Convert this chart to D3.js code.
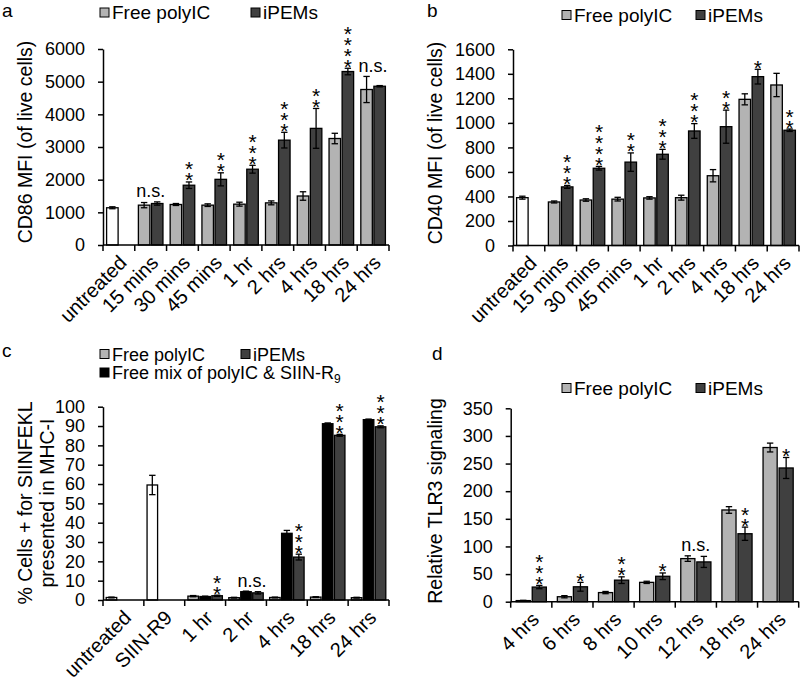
<!DOCTYPE html>
<html><head><meta charset="utf-8">
<script src="https://cdn.jsdelivr.net/npm/d3@7"></script>
<style>
body{margin:0;background:#fff}
svg{display:block}
text{font-family:"Liberation Sans",Arial,Helvetica,sans-serif;fill:#000}
.stars{writing-mode:vertical-rl;text-orientation:upright}
</style>
</head><body>
<svg id="chart" width="800" height="682"></svg>
<script>
// ---------- Panel a : CD86 MFI ----------
const catsA = ["untreated","15 mins","30 mins","45 mins","1 hr","2 hrs","4 hrs","18 hrs","24 hrs"];
const polyA = [1140,1220,1240,1220,1250,1290,1500,3260,4760];
const polyErrA = [30,80,30,40,60,60,130,160,400];
const ipemA = [null,1270,1830,2010,2320,3210,3570,5310,4860];
const ipemErrA = [null,50,100,200,120,240,610,100,20];
const sigA = ["","n.s.","**","**","***","***","**","****","n.s."];
const ticksA = [0,1000,2000,3000,4000,5000,6000];

// ---------- Panel b : CD40 MFI ----------
const catsB = ["untreated","15 mins","30 mins","45 mins","1 hr","2 hrs","4 hrs","18 hrs","24 hrs"];
const polyB = [390,355,371,378,388,390,569,1192,1309];
const polyErrB = [12,8,10,15,10,20,50,45,95];
const ipemB = [null,478,630,680,744,934,969,1377,940];
const ipemErrB = [null,12,15,75,40,60,135,60,10];
const sigB = ["","***","****","**","***","***","**","*","**"];
const ticksB = [0,200,400,600,800,1000,1200,1400,1600];

// ---------- Panel c : SIINFEKL presentation ----------
const catsC = ["untreated","SIIN-R9","1 hr","2 hr","4 hrs","18 hrs","24 hrs"];
const polyC = [1.3,59.5,2.0,1.2,1.3,1.5,1.2];
const polyErrC = [0.2,5,0.3,0.2,0.2,0.2,0.2];
const mixC = [null,null,1.8,4.3,34.5,91.2,93.3];
const mixErrC = [null,null,0.2,0.3,1.5,0.4,0.3];
const ipemC = [null,null,2.2,3.7,22.2,85.2,89.6];
const ipemErrC = [null,null,0.3,0.6,1.5,0.5,0.5];
const sigC = ["","","**","n.s.","***","***","***"];
const ticksC = [0,10,20,30,40,50,60,70,80,90,100];

// ---------- Panel d : TLR3 signaling ----------
const catsD = ["4 hrs","6 hrs","8 hrs","10 hrs","12 hrs","18 hrs","24 hrs"];
const polyD = [2,9,16.5,35,78,166,279];
const polyErrD = [0.5,2,2,2,5,6,8];
const ipemD = [26.5,27,39,46,72,123,242];
const ipemErrD = [3,8,6,6,10,12,19];
const sigD = ["***","*","**","*","n.s.","**","*"];
const ticksD = [0,50,100,150,200,250,300,350];

const C_LIGHT = "#b3b3b3", C_DARK = "#404040", C_BLACK = "#000000", C_WHITE = "#ffffff";
const whiteCats = ["untreated","SIIN-R9"];

const svg = d3.select("#chart");

function panel(cfg){
  const g = svg.append("g");
  const y = d3.scaleLinear().domain([0, cfg.yMax]).range([cfg.y0, cfg.yTop]);
  const x = d3.scaleBand().domain(cfg.cats).range([cfg.x0, cfg.x1]).paddingInner(0).paddingOuter(0);
  const W = x.bandwidth();
  const inner = d3.scaleBand().domain(d3.range(cfg.series.length))
      .range([cfg.pad, W - cfg.pad]).paddingInner(cfg.innerPad);
  const bw = inner.bandwidth();

  // bars
  cfg.series.forEach((s, si) => {
    cfg.cats.forEach((c, ci) => {
      const v = s.values[ci];
      if (v == null) return;
      const bx = x(c) + inner(si);
      const fill = (si === 0 && whiteCats.includes(c)) ? C_WHITE : s.color;
      g.append("rect").attr("x", bx).attr("y", y(v)).attr("width", bw)
        .attr("height", y(0) - y(v)).attr("fill", fill)
        .attr("stroke", "#000").attr("stroke-width", 1.3);
    });
  });
  // error bars
  cfg.series.forEach((s, si) => {
    cfg.cats.forEach((c, ci) => {
      const v = s.values[ci], e = s.errs[ci];
      if (v == null || !e) return;
      const cx = x(c) + inner(si) + bw / 2;
      const hi = y(v + e), lo = y(Math.max(0, v - e));
      const eg = g.append("g").attr("stroke", "#000").attr("stroke-width", 1.3);
      eg.append("line").attr("x1", cx).attr("x2", cx).attr("y1", hi).attr("y2", lo);
      eg.append("line").attr("x1", cx - 3.2).attr("x2", cx + 3.2).attr("y1", hi).attr("y2", hi);
      eg.append("line").attr("x1", cx - 3.2).attr("x2", cx + 3.2).attr("y1", lo).attr("y2", lo);
    });
  });
  // significance labels
  cfg.cats.forEach((c, ci) => {
    const sig = cfg.sig[ci];
    if (!sig) return;
    const n = cfg.series.length;
    let top = Infinity;
    cfg.series.forEach(s => { const v = s.values[ci]; if (v != null) top = Math.min(top, y(v + (s.errs[ci] || 0))); });
    if (sig === "n.s.") {
      const cx = x(c) + (inner(n - 2) + inner(n - 1) + bw) / 2;
      g.append("text").attr("x", cx).attr("y", top - 4.5).attr("text-anchor", "middle")
        .attr("font-size", 18).text(sig);
    } else {
      // asterisks stacked vertically (upright) above the iPEMs bar
      const last = cfg.series[n - 1];
      const cx = x(c) + inner(n - 1) + bw / 2;
      const t = y(last.values[ci] + (last.errs[ci] || 0));
      g.append("text").attr("class", "stars").attr("x", cx).attr("y", t - 2.5)
        .attr("text-anchor", "end").attr("font-size", 21).attr("letter-spacing", -12)
        .text(sig);
    }
  });
  // y axis
  const ya = d3.axisLeft(y).tickValues(cfg.ticks).tickFormat(d3.format("d"))
      .tickSize(5).tickPadding(13).tickSizeOuter(0);
  const yg = g.append("g").attr("transform", `translate(${cfg.x0},0)`).call(ya);
  yg.select(".domain").attr("stroke-width", 1.5);
  yg.selectAll(".tick line").attr("stroke-width", 1.5);
  yg.selectAll(".tick text").attr("font-size", 18).attr("font-family", "Liberation Sans, Arial, sans-serif");
  // x axis line and ticks at category boundaries
  const xg = g.append("g").attr("stroke", "#000").attr("stroke-width", 1.5);
  xg.append("line").attr("x1", cfg.x0).attr("x2", cfg.x1).attr("y1", cfg.y0).attr("y2", cfg.y0);
  const bounds = cfg.cats.map(c => x(c)).concat([cfg.x1]);
  bounds.forEach(bx => xg.append("line").attr("x1", bx).attr("x2", bx).attr("y1", cfg.y0).attr("y2", cfg.y0 + 6));
  // x labels
  cfg.cats.forEach(c => {
    const cx = x(c) + W / 2;
    g.append("text").attr("text-anchor", "end").attr("font-size", 20)
      .attr("transform", `translate(${cx + 9},${cfg.y0 + 19}) rotate(-45)`).text(c);
  });
  // y title
  cfg.title.forEach((t, i) => {
    g.append("text").attr("text-anchor", "middle").attr("font-size", 19.5)
      .attr("transform", `translate(${cfg.titleX[i]},${cfg.titleY}) rotate(-90)`).text(t);
  });
  // panel letter
  g.append("text").attr("x", cfg.letterX).attr("y", cfg.letterY).attr("font-size", 19).text(cfg.letter);
  // legend
  cfg.legend.forEach(it => {
    g.append("rect").attr("x", it.x).attr("y", it.y - 4.5).attr("width", 9).attr("height", 9)
      .attr("fill", it.color).attr("stroke", "#000").attr("stroke-width", 1);
    const tx = g.append("text").attr("x", it.x + 12).attr("y", it.y + 6.5).attr("font-size", cfg.legendSize || 19);
    if (it.sub) {
      tx.append("tspan").text(it.label);
      tx.append("tspan").attr("font-size", 12).attr("dy", 4).text(it.sub);
    } else tx.text(it.label);
  });
}

panel({
  cats: catsA, yMax: 6000, ticks: ticksA, x0: 103, x1: 389, y0: 245, yTop: 49,
  pad: 3.6, innerPad: 0.12,
  series: [{values: polyA, errs: polyErrA, color: C_LIGHT}, {values: ipemA, errs: ipemErrA, color: C_DARK}],
  sig: sigA, title: ["CD86 MFI (of live cells)"], titleX: [32], titleY: 142,
  letter: "a", letterX: 2, letterY: 17,
  legend: [{x: 100, y: 12.5, color: C_LIGHT, label: "Free polyIC"}, {x: 251, y: 12.5, color: C_DARK, label: "iPEMs"}]
});
panel({
  cats: catsB, yMax: 1600, ticks: ticksB, x0: 513, x1: 799, y0: 245.5, yTop: 49.3,
  pad: 3.6, innerPad: 0.12,
  series: [{values: polyB, errs: polyErrB, color: C_LIGHT}, {values: ipemB, errs: ipemErrB, color: C_DARK}],
  sig: sigB, title: ["CD40 MFI (of live cells)"], titleX: [442], titleY: 143,
  letter: "b", letterX: 427, letterY: 17,
  legend: [{x: 562, y: 15, color: C_LIGHT, label: "Free polyIC"}, {x: 696, y: 15, color: C_DARK, label: "iPEMs"}]
});
panel({
  cats: catsC, yMax: 100, ticks: ticksC, x0: 103, x1: 389, y0: 600, yTop: 406.7,
  pad: 3.2, innerPad: 0.12,
  series: [{values: polyC, errs: polyErrC, color: C_LIGHT}, {values: mixC, errs: mixErrC, color: C_BLACK}, {values: ipemC, errs: ipemErrC, color: C_DARK}],
  sig: sigC, title: ["% Cells + for SIINFEKL", "presented in MHC-I"], titleX: [32, 54], titleY: 503,
  letter: "c", letterX: 2, letterY: 357, legendSize: 18,
  legend: [{x: 100, y: 354, color: C_LIGHT, label: "Free polyIC"}, {x: 241, y: 354, color: C_DARK, label: "iPEMs"},
           {x: 100, y: 372.5, color: C_BLACK, label: "Free mix of polyIC & SIIN-R", sub: "9"}]
});
panel({
  cats: catsD, yMax: 350, ticks: ticksD, x0: 510.7, x1: 798.7, y0: 601.7, yTop: 408.3,
  pad: 5.5, innerPad: 0.12,
  series: [{values: polyD, errs: polyErrD, color: C_LIGHT}, {values: ipemD, errs: ipemErrD, color: C_DARK}],
  sig: sigD, title: ["Relative TLR3 signaling"], titleX: [442], titleY: 501,
  letter: "d", letterX: 432, letterY: 360,
  legend: [{x: 562, y: 388, color: C_LIGHT, label: "Free polyIC"}, {x: 696, y: 388, color: C_DARK, label: "iPEMs"}]
});
</script>
</body></html>
